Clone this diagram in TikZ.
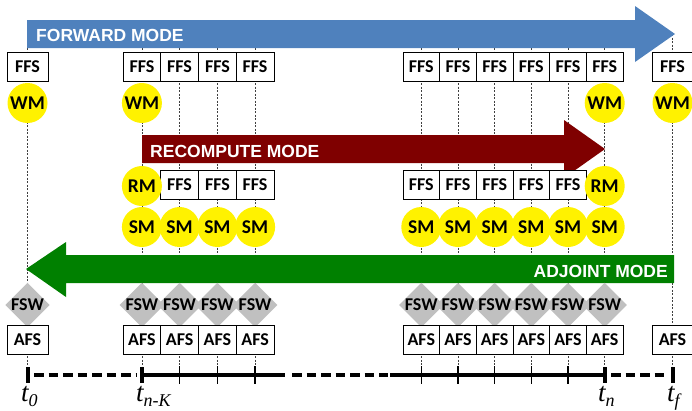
\documentclass[tikz,border=0pt]{standalone}
\usepackage{fontspec}
\setmainfont{Liberation Serif}
\newfontfamily\hfont{Liberation Sans}
\newfontfamily\cfont{Carlito}
\usetikzlibrary{shapes.geometric}
\definecolor{fwdblue}{HTML}{4F81BD}
\definecolor{recred}{HTML}{7F0000}
\definecolor{adjgreen}{HTML}{008000}
\definecolor{fswgray}{HTML}{C0C0C0}
\newcommand{\tsub}[1]{\raisebox{-0.22em}{\fontsize{18}{18}\selectfont\itshape #1}}
\begin{document}
\begin{tikzpicture}[x=1pt,y=-1pt,
  sbox/.style={draw=black,line width=0.8pt,fill=white,minimum height=29pt,inner sep=0pt,font=\cfont\bfseries\fontsize{18}{18}\selectfont},
  ycirc/.style={circle,fill=yellow,minimum size=40pt,inner sep=0pt,font=\cfont\bfseries\fontsize{19.5}{19.5}\selectfont},
  fswnode/.style={diamond,fill=fswgray,minimum width=44pt,minimum height=44pt,inner sep=0pt,font=\cfont\bfseries\fontsize{18}{18}\selectfont},
  heading/.style={text=white,font=\hfont\bfseries\fontsize{17.5}{17.5}\selectfont,inner sep=0pt},
  vline/.style={dash pattern=on 2pt off 1.5pt,line width=0.5pt,black!75},
  tsolid/.style={line width=3.5pt},
  tdash/.style={line width=3.5pt,dash pattern=on 9.5pt off 5pt},
  bigtick/.style={line width=4pt},
  smalltick/.style={line width=1.3pt},
  tlabel/.style={inner sep=0pt,anchor=base west,font=\fontsize{27}{27}\selectfont\itshape}
]
\useasboundingbox (0,0) rectangle (692,410);
% vertical dashed guide lines
\foreach \x [count=\i] in {27.5,141.9,179.6,217.4,255.1,421.3,458,494.7,531.3,568,604.7,672.5}
  \draw[vline] (\x,34) -- (\x,375);
% forward mode arrow
\fill[fwdblue] (27,20) -- (635,20) -- (635,6) -- (675,34) -- (635,62) -- (635,48) -- (27,48) -- cycle;
\node[heading,anchor=base west] (fwd) at (36,41) {FORWARD MODE};
% top FFS row
\node[sbox,minimum width=41pt] (ffs0) at (27.5,66.5) {FFS};
\foreach \x [count=\i] in {141.9,179.6,217.4,255.1}
  \node[sbox,minimum width=37.75pt] (ffsA\i) at (\x,66.5) {FFS};
\foreach \x [count=\i] in {421.3,458,494.7,531.3,568,604.7}
  \node[sbox,minimum width=36.67pt] (ffsB\i) at (\x,66.5) {FFS};
\node[sbox,minimum width=41pt] (ffsf) at (672.5,66.5) {FFS};
% WM circles
\node[ycirc] (wm0) at (27.5,103) {WM};
\node[ycirc] (wmA) at (141.9,103) {WM};
\node[ycirc] (wmB) at (604.7,103) {WM};
\node[ycirc] (wmf) at (672.5,103) {WM};
% recompute arrow
\fill[recred] (142,135) -- (564,135) -- (564,120) -- (605,149) -- (564,178) -- (564,163) -- (142,163) -- cycle;
\node[heading,anchor=base west] (rec) at (150,157) {RECOMPUTE MODE};
% second row
\foreach \x [count=\i] in {179.6,217.4,255.1}
  \node[sbox,minimum width=37.75pt] (rffsA\i) at (\x,185) {FFS};
\foreach \x [count=\i] in {421.3,458,494.7,531.3,568}
  \node[sbox,minimum width=36.67pt] (rffsB\i) at (\x,185) {FFS};
\node[ycirc] (rmA) at (141.9,186) {RM};
\node[ycirc] (rmB) at (604.7,186) {RM};
% SM circles
\foreach \x [count=\i] in {141.9,179.6,217.4,255.1}
  \node[ycirc] (smA\i) at (\x,227) {SM};
\foreach \x [count=\i] in {421.3,458,494.7,531.3,568,604.7}
  \node[ycirc] (smB\i) at (\x,227) {SM};
% adjoint arrow
\fill[adjgreen] (674,255) -- (66,255) -- (66,242) -- (26,269) -- (66,297) -- (66,283) -- (674,283) -- cycle;
\node[heading,anchor=base east] (adj) at (668,277) {ADJOINT MODE};
% FSW diamonds
\node[fswnode] (fsw0) at (27.5,305) {FSW};
\foreach \x [count=\i] in {141.9,179.6,217.4,255.1}
  \node[fswnode] (fswA\i) at (\x,305) {FSW};
\foreach \x [count=\i] in {421.3,458,494.7,531.3,568,604.7}
  \node[fswnode] (fswB\i) at (\x,305) {FSW};
% AFS row
\node[sbox,minimum width=41pt] (afs0) at (27.5,340) {AFS};
\foreach \x [count=\i] in {141.9,179.6,217.4,255.1}
  \node[sbox,minimum width=37.75pt] (afsA\i) at (\x,340) {AFS};
\foreach \x [count=\i] in {421.3,458,494.7,531.3,568,604.7}
  \node[sbox,minimum width=36.67pt] (afsB\i) at (\x,340) {AFS};
\node[sbox,minimum width=41pt] (afsf) at (672.5,340) {AFS};
% timeline
\draw[tdash] (34,375) -- (137,375);
\draw[tsolid] (141.9,375) -- (285,375);
\draw[tdash] (292,375) -- (388,375);
\draw[tsolid] (390,375) -- (604.7,375);
\draw[tdash] (611,375) -- (668,375);
\foreach \x in {27.5,141.9,604.7,672.5}
  \draw[bigtick] (\x,367) -- (\x,383);
\foreach \x in {179.6,217.4,255.1,421.3,458,494.7,531.3,568}
  \draw[smalltick] (\x,366) -- (\x,384);
% labels
\node[tlabel] (l0) at (21,401) {t\tsub{0}};
\node[tlabel] (l1) at (136,401) {t\tsub{n-K}};
\node[tlabel] (l2) at (598,401) {t\tsub{n}};
\node[tlabel] (l3) at (667,401) {t\tsub{f}};
\end{tikzpicture}
\end{document}
